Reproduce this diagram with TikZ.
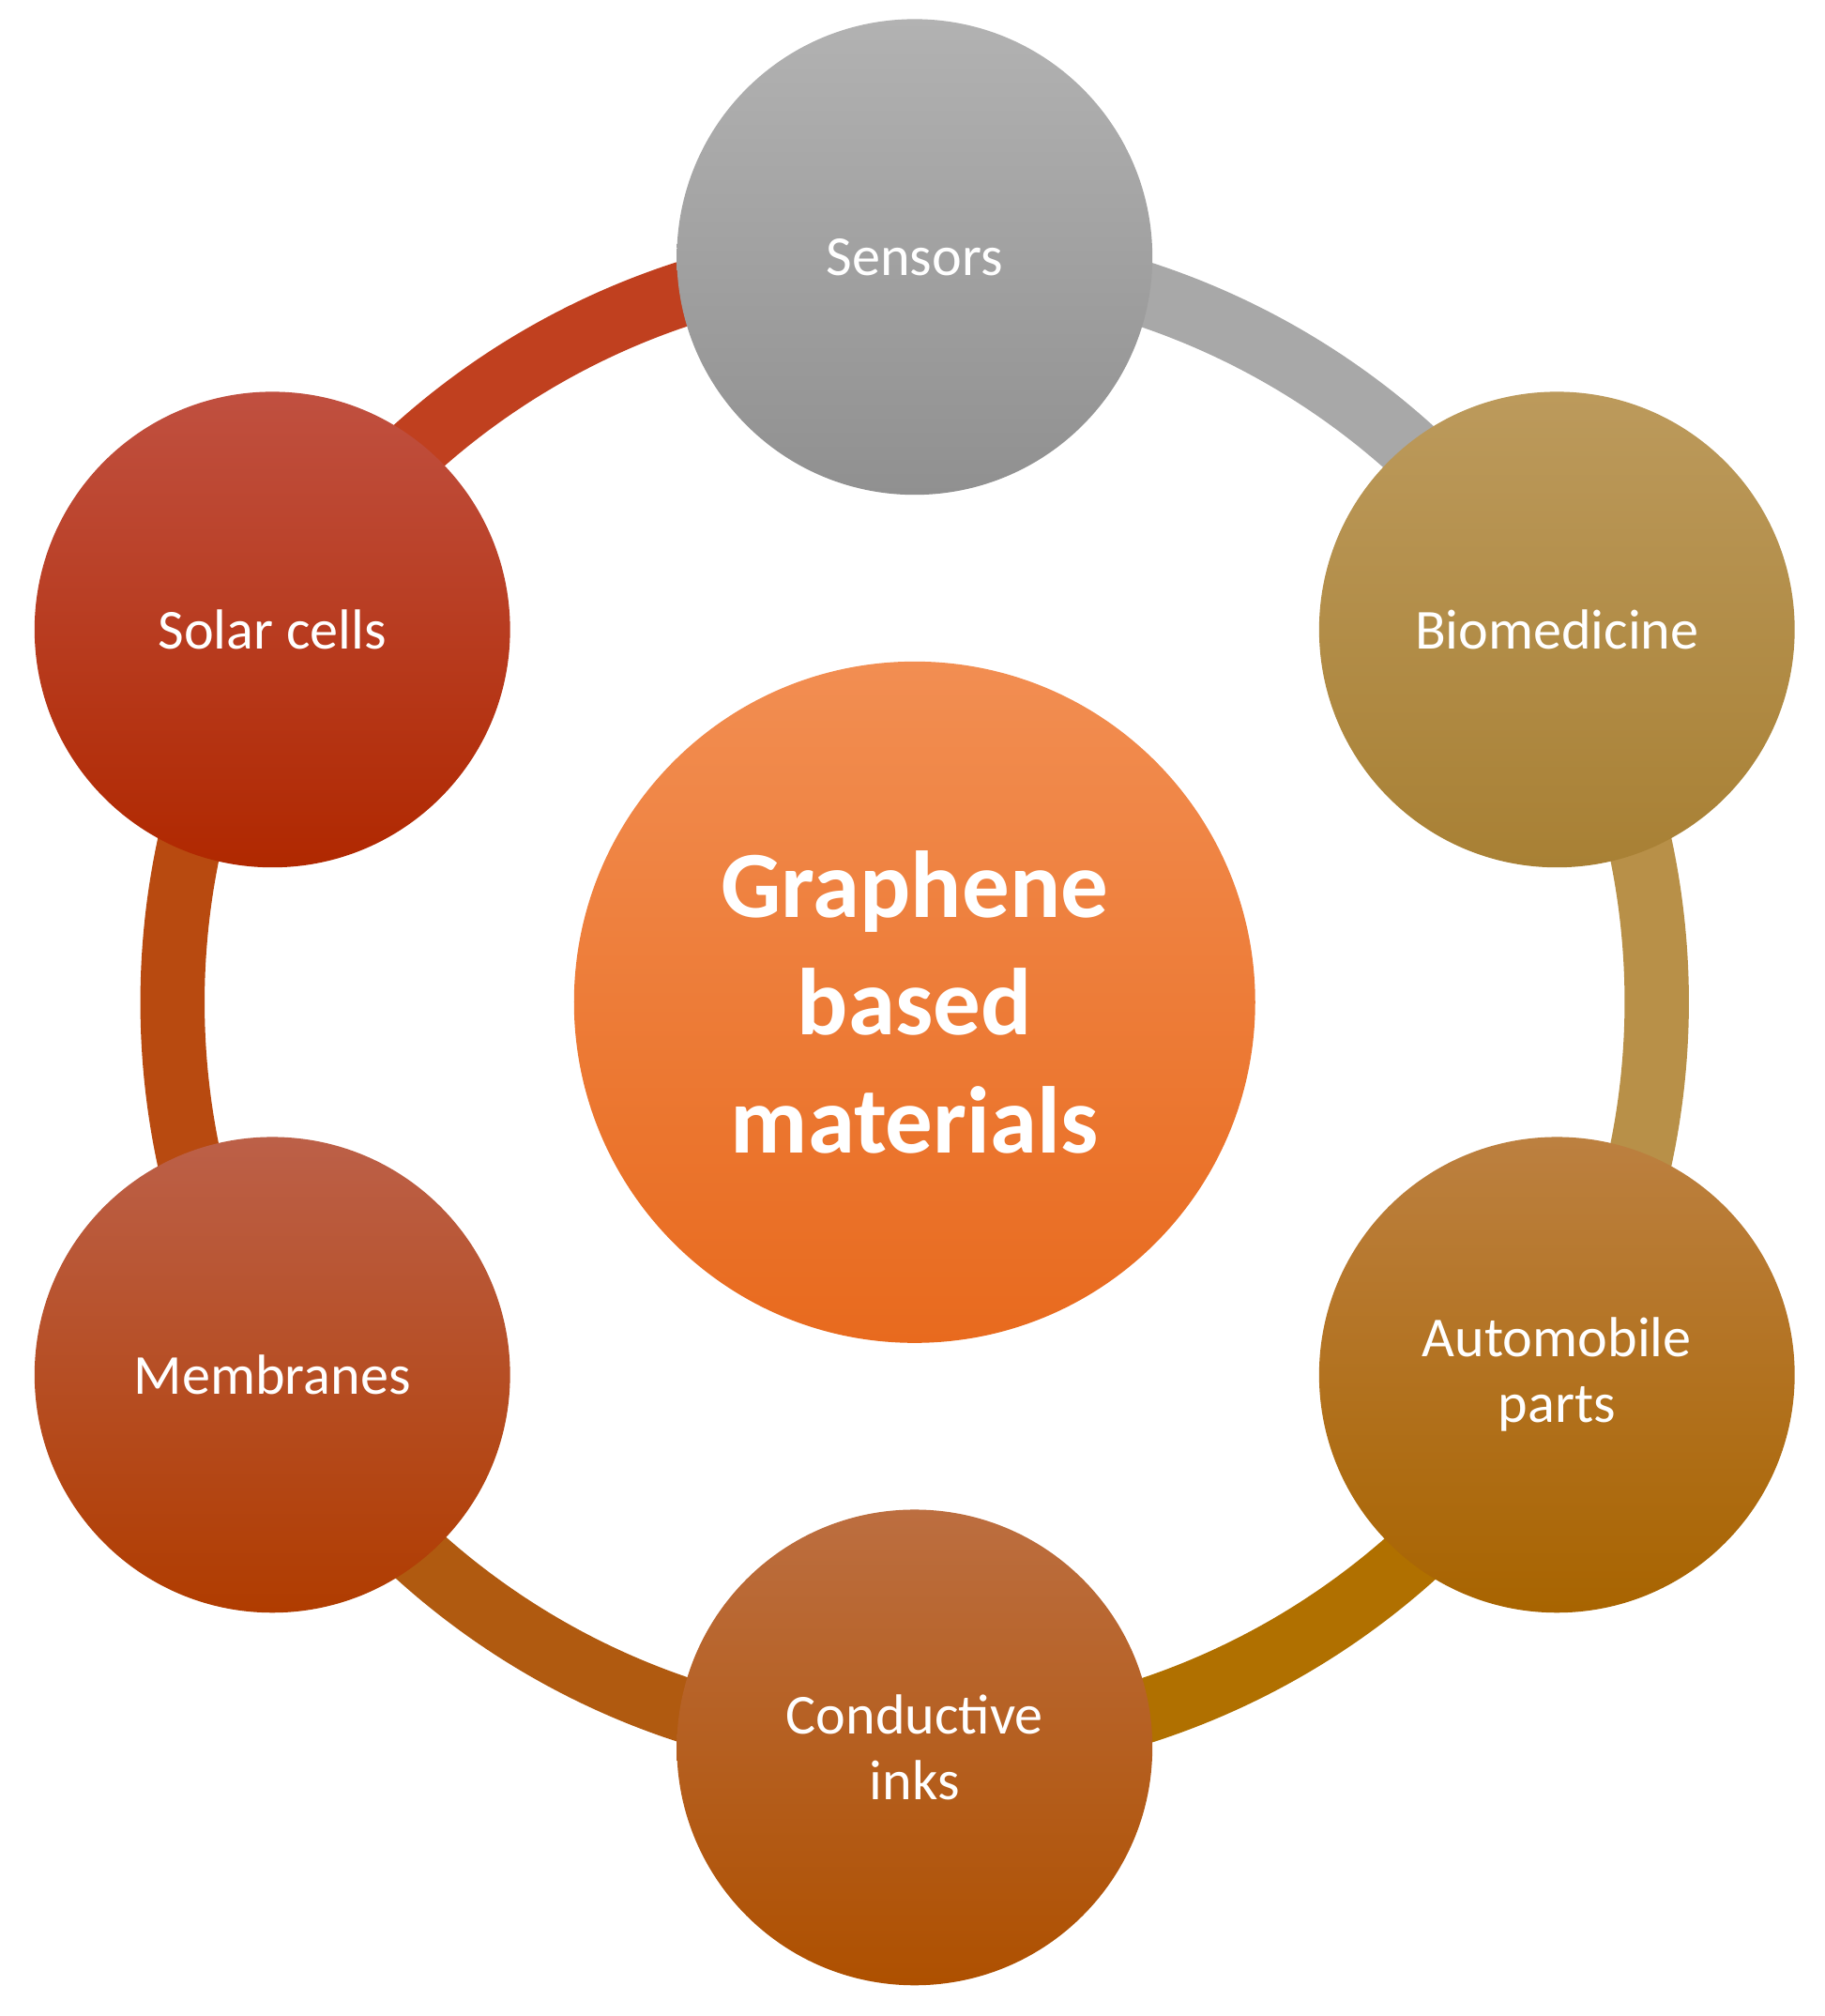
\documentclass[tikz,border=0pt]{standalone}
\usepackage{fontspec}
\setmainfont{Carlito}
\begin{document}
\begin{tikzpicture}[x=0.01cm,y=0.01cm,
  app/.style={circle,minimum size=3.7cm,inner sep=0pt,text=white,font=\fontsize{12.5}{14.5}\selectfont,align=center,shading=axis,shading angle=0},
  ring/.style={line width=0.5cm}]
\useasboundingbox (0,0) rectangle (1420,1569);
\definecolor{cA}{HTML}{C0401F}\definecolor{cB}{HTML}{A8A8A8}\definecolor{cC}{HTML}{B89048}
\definecolor{cD}{HTML}{B07000}\definecolor{cE}{HTML}{B05A10}\definecolor{cF}{HTML}{B84A10}
\coordinate (o) at (712,789);
\node[app,top color={rgb,255:red,178;green,178;blue,178},bottom color={rgb,255:red,144;green,144;blue,144}] (sens) at (712,1369) {Sensors};
\node[app,top color={rgb,255:red,188;green,154;blue,92},bottom color={rgb,255:red,168;green,128;blue,52}] (bio) at (1212,1079) {Biomedicine};
\node[app,top color={rgb,255:red,188;green,128;blue,64},bottom color={rgb,255:red,168;green,100;blue,0}] (auto) at (1212,499) {Automobile\\parts};
\node[app,top color={rgb,255:red,188;green,110;blue,64},bottom color={rgb,255:red,174;green,80;blue,0}] (cond) at (712,209) {Conductive\\inks};
\node[app,top color={rgb,255:red,188;green,96;blue,72},bottom color={rgb,255:red,176;green,60;blue,0}] (memb) at (212,499) {Membranes};
\node[app,top color={rgb,255:red,192;green,80;blue,64},bottom color={rgb,255:red,176;green,40;blue,0}] (sol) at (212,1079) {Solar cells};
\begin{scope}[on background layer/.style={}]
\end{scope}
\node[app,minimum size=5.3cm,font=\bfseries\fontsize{21}{26}\selectfont,top color={rgb,255:red,242;green,142;blue,82},bottom color={rgb,255:red,232;green,106;blue,30}] (core) at (o) {Graphene\\based\\materials};
% ring segments drawn behind via pgf layers
\pgfdeclarelayer{bg}\pgfsetlayers{bg,main}
\begin{pgfonlayer}{bg}
\draw[ring,cA] (sens.center) arc[start angle=90,end angle=150,radius=5.8cm];
\draw[ring,cB] (bio.center) arc[start angle=30,end angle=90,radius=5.8cm];
\draw[ring,cC] (auto.center) arc[start angle=-30,end angle=30,radius=5.8cm];
\draw[ring,cD] (cond.center) arc[start angle=-90,end angle=-30,radius=5.8cm];
\draw[ring,cE] (memb.center) arc[start angle=-150,end angle=-90,radius=5.8cm];
\draw[ring,cF] (sol.center) arc[start angle=150,end angle=210,radius=5.8cm];
\end{pgfonlayer}
\end{tikzpicture}
\end{document}
